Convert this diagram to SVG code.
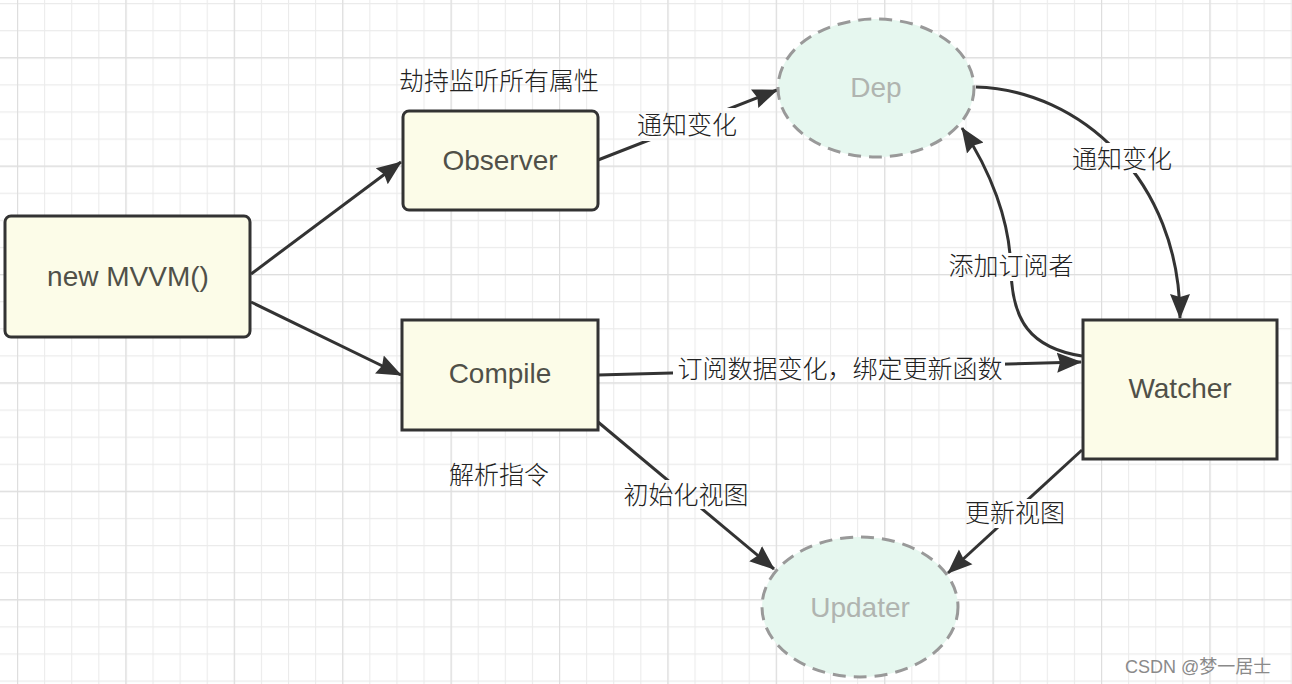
<svg xmlns="http://www.w3.org/2000/svg" width="1292" height="684" viewBox="0 0 1292 684">
<style>
.node{fill:#fcfce8;stroke:#333;stroke-width:3}
.ell{fill:#e6f7ef;stroke:#999;stroke-width:3;stroke-dasharray:13 8}
.nt{font-family:"Liberation Sans",Arial,sans-serif;font-size:28px;fill:#505048;text-anchor:middle}
.et{font-family:"Liberation Sans",Arial,sans-serif;font-size:28px;fill:#b0b4b0;text-anchor:middle}
.lb{font-family:"Noto Sans CJK SC","Noto Sans",sans-serif;font-size:25px;font-weight:300;fill:#222;text-anchor:middle}
.wm{font-family:"Liberation Sans","Noto Sans CJK SC",sans-serif;font-size:18px;fill:#8a8a8a}
.cn{fill:none;stroke:#333;stroke-width:3}
</style>
<defs>
<pattern id="gmin" patternUnits="userSpaceOnUse" x="17" y="3" width="27.1" height="27.1">
<path d="M0,0.5H27.1M0.5,0V27.1" stroke="#ebebeb" stroke-width="1.2" fill="none"/>
</pattern>
<pattern id="gmaj" patternUnits="userSpaceOnUse" x="17" y="57.2" width="108.4" height="108.4">
<path d="M0,0.5H108.4M0.5,0V108.4" stroke="#dedede" stroke-width="1.3" fill="none"/>
</pattern>
<marker id="ar" markerUnits="userSpaceOnUse" markerWidth="26" markerHeight="22" refX="24" refY="11" orient="auto" viewBox="0 0 26 22">
<path d="M0,1 L25,11 L0,21 L3,11 Z" fill="#333"/>
</marker>
<mask id="lm" maskUnits="userSpaceOnUse" x="0" y="0" width="1292" height="684">
<rect x="0" y="0" width="1292" height="684" fill="#fff"/>
<rect x="634" y="108" width="106" height="33" fill="#000"/>
<rect x="1070" y="143" width="105" height="30" fill="#000"/>
<rect x="950" y="253" width="122" height="28" fill="#000"/>
<rect x="673" y="352" width="332" height="32" fill="#000"/>
<rect x="620" y="480" width="132" height="29" fill="#000"/>
<rect x="962" y="499" width="106" height="29" fill="#000"/>
</mask>
</defs>
<rect width="1292" height="684" fill="#fff"/>
<rect width="1292" height="684" fill="url(#gmin)"/>
<rect width="1292" height="684" fill="url(#gmaj)"/>

<g id="connectors" mask="url(#lm)">
<path class="cn" d="M251,274 L401,162" marker-end="url(#ar)"/>
<path class="cn" d="M251,302 L401,375" marker-end="url(#ar)"/>
<path class="cn" d="M598,160 L777,90" marker-end="url(#ar)"/>
<path class="cn" d="M976,87 C1080,90 1180,180 1180,318" marker-end="url(#ar)"/>
<path class="cn" d="M1082,356 C1030,348 1012,320 1011,270 S990,170 962,128" marker-end="url(#ar)"/>
<path class="cn" d="M598,375 L1081,362" marker-end="url(#ar)"/>
<path class="cn" d="M598,422 L774,569" marker-end="url(#ar)"/>
<path class="cn" d="M1082,450 L948,573" marker-end="url(#ar)"/>
</g>

<g id="node-mvvm">
<rect class="node" x="5" y="216" width="245" height="121" rx="6"/>
<text class="nt" x="128" y="286">new MVVM()</text>
</g>
<g id="node-observer">
<rect class="node" x="403" y="111" width="195" height="99" rx="6"/>
<text class="nt" x="500" y="170">Observer</text>
</g>
<g id="node-compile">
<rect class="node" x="402" y="320" width="196" height="110"/>
<text class="nt" x="500" y="383">Compile</text>
</g>
<g id="node-watcher">
<rect class="node" x="1083" y="320" width="194" height="139"/>
<text class="nt" x="1180" y="398">Watcher</text>
</g>
<g id="node-dep">
<ellipse class="ell" cx="876" cy="88" rx="98" ry="69"/>
<text class="et" x="876" y="97">Dep</text>
</g>
<g id="node-updater">
<ellipse class="ell" cx="860" cy="607" rx="98" ry="70"/>
<text class="et" x="860" y="617">Updater</text>
</g>

<g id="labels">
<text class="lb" x="499" y="90">劫持监听所有属性</text>
<text class="lb" x="687" y="134">通知变化</text>
<text class="lb" x="1122" y="168">通知变化</text>
<text class="lb" x="1011" y="275">添加订阅者</text>
<text class="lb" x="840" y="378">订阅数据变化，绑定更新函数</text>
<text class="lb" x="499" y="484">解析指令</text>
<text class="lb" x="686" y="504">初始化视图</text>
<text class="lb" x="1015" y="522">更新视图</text>
</g>
<text class="wm" x="1125" y="673">CSDN @梦一居士</text>
</svg>
